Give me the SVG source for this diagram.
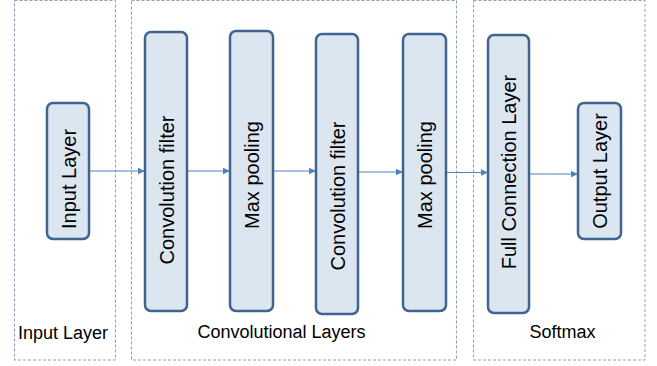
<svg xmlns="http://www.w3.org/2000/svg" width="657" height="366" viewBox="0 0 657 366">
<defs>
<marker id="ah" markerWidth="8" markerHeight="8" refX="7" refY="4" orient="auto" markerUnits="userSpaceOnUse">
<path d="M0,0.8 L7,4 L0,7.2 Z" fill="#4f81bd"/>
</marker>
<style>
.grp{fill:none;stroke:#8a9fba;stroke-width:1;stroke-dasharray:3,2}
.node{fill:#dce6f1;stroke:#41648f;stroke-width:2.5}
.nt{font-family:"Liberation Sans",Arial,sans-serif;font-size:20px;fill:#000;text-anchor:middle}
.lbl{font-family:"Liberation Sans",Arial,sans-serif;font-size:18px;fill:#000;text-anchor:middle}
.conn line{stroke:#4f81bd;stroke-width:1.2;marker-end:url(#ah)}
</style>
</defs>
<rect width="657" height="366" fill="#fff"/>
<g id="groups">
<rect class="grp" x="14.5" y="0.5" width="101" height="359.5"/>
<rect class="grp" x="131.5" y="0.5" width="325" height="359.5"/>
<rect class="grp" x="473.5" y="0.5" width="171.5" height="359.5"/>
<text class="lbl" x="63" y="339">Input Layer</text>
<text class="lbl" x="281.5" y="338">Convolutional Layers</text>
<text class="lbl" x="562.5" y="338">Softmax</text>
</g>
<g id="connectors" class="conn">
<line x1="90" y1="171" x2="145" y2="171"/>
<line x1="187" y1="171" x2="230" y2="171"/>
<line x1="273" y1="171" x2="316" y2="171"/>
<line x1="358" y1="172" x2="403" y2="172"/>
<line x1="446" y1="172.5" x2="488" y2="172.5"/>
<line x1="529" y1="174" x2="578" y2="174"/>
</g>
<g id="input">
<rect class="node" x="47" y="103" width="42" height="136" rx="6"/>
<text class="nt" transform="translate(75.5,179) rotate(-90)">Input Layer</text>
</g>
<g id="conv1">
<rect class="node" x="145" y="32" width="42" height="279" rx="6"/>
<text class="nt" transform="translate(173.5,190) rotate(-90)">Convolution filter</text>
</g>
<g id="pool1">
<rect class="node" x="230" y="31" width="43" height="280" rx="6"/>
<text class="nt" transform="translate(259,175) rotate(-90)">Max pooling</text>
</g>
<g id="conv2">
<rect class="node" x="316" y="34" width="42" height="280" rx="6"/>
<text class="nt" transform="translate(344.5,196) rotate(-90)">Convolution filter</text>
</g>
<g id="pool2">
<rect class="node" x="403" y="34" width="43" height="277" rx="6"/>
<text class="nt" transform="translate(432,175) rotate(-90)">Max pooling</text>
</g>
<g id="fc">
<rect class="node" x="488" y="35" width="41" height="278" rx="6"/>
<text class="nt" transform="translate(516,172) rotate(-90)">Full Connection Layer</text>
</g>
<g id="output">
<rect class="node" x="578" y="103" width="43" height="136" rx="6"/>
<text class="nt" transform="translate(607,171) rotate(-90)">Output Layer</text>
</g>
</svg>
